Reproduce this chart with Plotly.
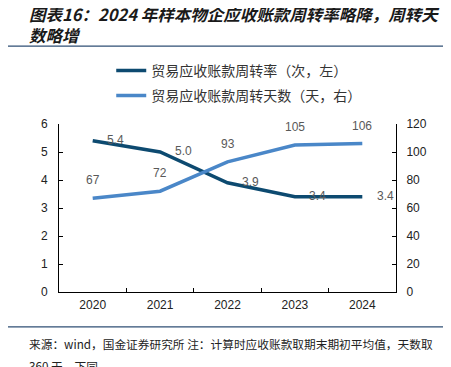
import plotly.graph_objects as go

years = ["2020", "2021", "2022", "2023", "2024"]
turnover_rate = [5.4, 5.0, 3.9, 3.4, 3.4]
turnover_days = [67, 72, 93, 105, 106]
rate_labels = ["5.4", "5.0", "3.9", "3.4", "3.4"]
days_labels = ["67", "72", "93", "105", "106"]

name_rate = "贸易应收账款周转率（次，左）"
name_days = "贸易应收账款周转天数（天，右）"
title_line1 = "图表16：2024 年样本物企应收账款周转率略降，周转天"
title_line2 = "数略增"
source_line1 = "来源：wind，国金证券研究所 注：计算时应收账款取期末期初平均值，天数取"
source_line2 = "360 天，下同"

dark = "#0D4A70"
light = "#4A87C8"
label_font = dict(family="Liberation Sans, Arial", size=12, color="#595959")
cjk = "Noto Sans CJK SC"

fig = go.Figure()
fig.add_trace(go.Scatter(x=years, y=turnover_rate, mode="lines", name=name_rate,
                         line=dict(color=dark, width=3.5), legendgroup="a", yaxis="y"))
fig.add_trace(go.Scatter(x=years, y=turnover_days, mode="lines", name=name_days,
                         line=dict(color=light, width=3.5), legendgroup="b", yaxis="y2"))

annotations = []
for i, (y, t) in enumerate(zip(turnover_rate, rate_labels)):
    annotations.append(dict(x=i, y=y, xref="x", yref="y", text=t, showarrow=False,
                            xshift=23, yshift=1, font=label_font))
for i, (y, t) in enumerate(zip(turnover_days, days_labels)):
    annotations.append(dict(x=i, y=y, xref="x", yref="y2", text=t, showarrow=False,
                            yshift=18, font=label_font))

title_font = dict(family=cjk, size=16.5, color="#1a1a1a")
annotations.append(dict(x=-0.095, y=1.652, xref="paper", yref="paper", xanchor="left", yanchor="middle",
                        text="<b><i>" + title_line1 + "</i></b>", showarrow=False, align="left",
                        font=title_font))
annotations.append(dict(x=-0.095, y=1.530, xref="paper", yref="paper", xanchor="left", yanchor="middle",
                        text="<b><i>" + title_line2 + "</i></b>", showarrow=False, align="left",
                        font=title_font))
src_font = dict(family=cjk, size=11.7, color="#222222")
annotations.append(dict(x=-0.095, y=-0.304, xref="paper", yref="paper", xanchor="left", yanchor="middle",
                        text=source_line1, showarrow=False, align="left", font=src_font))
annotations.append(dict(x=-0.095, y=-0.435, xref="paper", yref="paper", xanchor="left", yanchor="middle",
                        text=source_line2, showarrow=False, align="left", font=src_font))

shapes = [
    dict(type="line", xref="paper", yref="paper", x0=-0.175, x1=1.151, y0=1.464, y1=1.464,
         line=dict(color="#2F4F75", width=1.2)),
    dict(type="line", xref="paper", yref="paper", x0=-0.175, x1=1.151, y0=-0.208, y1=-0.208,
         line=dict(color="#2F4F75", width=1.2)),
]

axis_font = dict(family="Liberation Sans, Arial", size=12, color="#222222")

fig.update_layout(
    width=443, height=359,
    margin=dict(l=51, r=55, t=116, b=75),
    plot_bgcolor="white", paper_bgcolor="white",
    showlegend=True,
    legend=dict(x=0.155, y=1.412, xanchor="left", yanchor="top", orientation="v",
                font=dict(family=cjk, size=14, color="#333333"),
                tracegroupgap=4, itemwidth=30, bgcolor="rgba(0,0,0,0)"),
    xaxis=dict(type="category", range=[-0.5, 4.5], showline=True, linecolor="#000000", linewidth=1,
               ticks="inside", tickson="boundaries", ticklen=4, tickcolor="#000000",
               showgrid=False, zeroline=False, tickfont=axis_font, ticklabelstandoff=2),
    yaxis=dict(range=[0, 6], dtick=1, showline=True, linecolor="#000000", linewidth=1,
               ticks="inside", ticklen=4, tickcolor="#000000", showgrid=False, zeroline=False,
               tickfont=axis_font, ticklabelstandoff=8),
    yaxis2=dict(range=[0, 120], dtick=20, overlaying="y", side="right", showline=True,
                linecolor="#000000", linewidth=1, ticks="inside", ticklen=4, tickcolor="#000000",
                showgrid=False, zeroline=False, tickfont=axis_font, ticklabelstandoff=7),
    annotations=annotations,
    shapes=shapes,
)

fig.write_html("out.html")
